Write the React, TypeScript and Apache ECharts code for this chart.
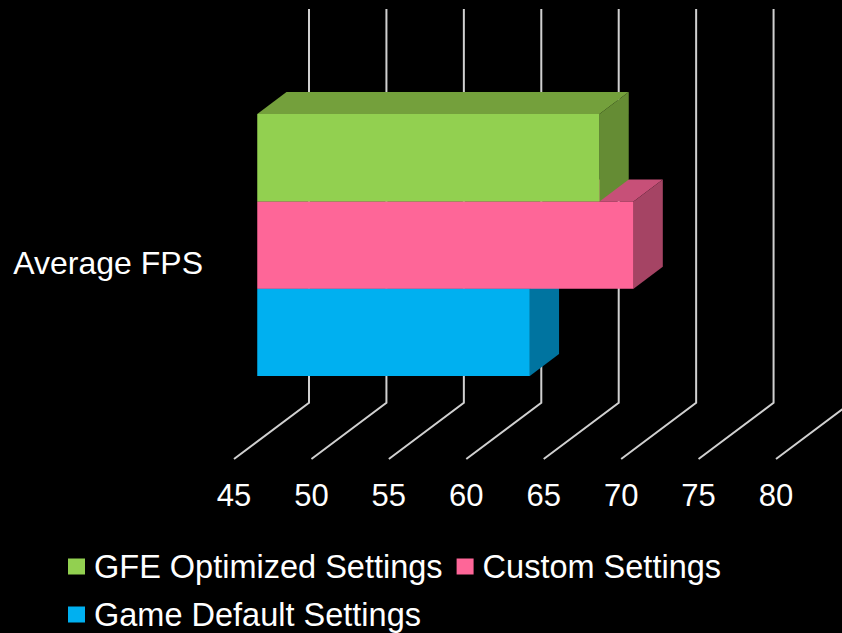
import React, { useEffect, useRef } from "react";
import * as echarts from "echarts";

// ---- data ----
const categories = ["Average FPS"];
const seriesNames = ["GFE Optimized Settings", "Custom Settings", "Game Default Settings"];
const gfeOptimized = [67.1];
const customSettings = [69.3];
const gameDefault = [62.6];
const tickValues = [45, 50, 55, 60, 65, 70, 75, 80];
const AXIS_MIN = 45;
const AXIS_MAX = 80;
const AXIS_STEP = 5;

// ---- style / projection ----
const FONT = "Liberation Sans";
const DEPTH_X = 75;
const DEPTH_Y = -56.3;
const BAR_FRONT = 0.31;
const BAR_BACK = 0.70;
const WALL_TOP = 9;
const colors = {
  front: ["#92d050", "#fe6698", "#00b0f0"],
  top: ["#74a03c", "#c75078", "#0089bb"],
  side: ["#658c34", "#a54464", "#0074a0"],
};

const seriesValues = [gfeOptimized, customSettings, gameDefault];

function makeBarRenderer(idx: number) {
  return (params: any, api: any) => {
    const v = api.value(0);
    const cat = api.value(1);
    const p0 = api.coord([AXIS_MIN, cat]);
    const p1 = api.coord([v, cat]);
    const x0 = p0[0];
    const x1 = p1[0];
    const yc = p0[1];
    const bandH = api.size([0, 1])[1];
    const total = bandH / 1.5;
    const h = total / 3;
    const top = yc - total / 2 + idx * h;
    const bot = top + h;
    const fx = DEPTH_X * BAR_FRONT;
    const fy = DEPTH_Y * BAR_FRONT;
    const bx = DEPTH_X * BAR_BACK;
    const by = DEPTH_Y * BAR_BACK;
    return {
      type: "group",
      children: [
        {
          type: "polygon",
          shape: {
            points: [
              [x0 + fx, top + fy],
              [x1 + fx, top + fy],
              [x1 + bx, top + by],
              [x0 + bx, top + by],
            ],
          },
          style: { fill: colors.top[idx] },
        },
        {
          type: "polygon",
          shape: {
            points: [
              [x1 + fx, top + fy],
              [x1 + bx, top + by],
              [x1 + bx, bot + by],
              [x1 + fx, bot + fy],
            ],
          },
          style: { fill: colors.side[idx] },
        },
        {
          type: "polygon",
          shape: {
            points: [
              [x0 + fx, top + fy],
              [x1 + fx, top + fy],
              [x1 + fx, bot + fy],
              [x0 + fx, bot + fy],
            ],
          },
          style: { fill: colors.front[idx] },
        },
      ],
    };
  };
}

function gridRenderer(params: any, api: any) {
  const v = api.value(0);
  const cs = params.coordSys;
  const x = api.coord([v, 0])[0];
  const floorY = cs.y + cs.height;
  return {
    type: "polyline",
    shape: {
      points: [
        [x, floorY],
        [x + DEPTH_X, floorY + DEPTH_Y],
        [x + DEPTH_X, WALL_TOP],
      ],
    },
    style: { stroke: "#d0d0d0", lineWidth: 2, fill: "none" },
  };
}

export default function App() {
  const ref = useRef<HTMLDivElement>(null);
  useEffect(() => {
    if (!ref.current) return;
    const chart = echarts.init(ref.current, null, { renderer: "svg" });
    const legendCommon = {
      orient: "horizontal",
      icon: "rect",
      itemWidth: 17,
      itemHeight: 16,
      itemGap: 14,
      padding: 0,
      selectedMode: false,
      textStyle: {
        color: "#ffffff",
        fontSize: 32.5,
        lineHeight: 28,
        fontFamily: FONT,
        padding: [0, 0, 0, 4],
      },
    };
    chart.setOption({
      animation: false,
      backgroundColor: "#000000",
      textStyle: { fontFamily: FONT },
      grid: { left: 234, right: 66, top: 66, bottom: 174, containLabel: false },
      xAxis: {
        type: "value",
        min: AXIS_MIN,
        max: AXIS_MAX,
        interval: AXIS_STEP,
        axisLine: { show: false },
        axisTick: { show: false },
        splitLine: { show: false },
        axisLabel: { color: "#ffffff", fontSize: 31, fontFamily: FONT, margin: 21 },
      },
      yAxis: {
        type: "category",
        data: categories,
        axisLine: { show: false },
        axisTick: { show: false },
        splitLine: { show: false },
        axisLabel: { color: "#ffffff", fontSize: 32, fontFamily: FONT, margin: 31 },
      },
      legend: [
        { ...legendCommon, left: 68, top: 550, data: [seriesNames[0], seriesNames[1]] },
        { ...legendCommon, left: 68, top: 598, data: [seriesNames[2]] },
      ],
      series: [
        {
          type: "custom",
          name: "grid",
          z: 1,
          silent: true,
          renderItem: gridRenderer,
          data: tickValues.map((t) => [t, 0]),
          encode: { x: 0, y: 1 },
        },
        ...seriesNames.map((name, idx) => ({
          type: "custom",
          name,
          z: 10 - idx,
          itemStyle: { color: colors.front[idx] },
          renderItem: makeBarRenderer(idx),
          data: seriesValues[idx].map((v, i) => [v, i]),
          encode: { x: 0, y: 1 },
        })),
      ],
    });
    return () => chart.dispose();
  }, []);
  return (
    <div
      ref={ref}
      style={{ position: "fixed", left: 0, top: 0, width: 842, height: 633, background: "#000" }}
    />
  );
}
